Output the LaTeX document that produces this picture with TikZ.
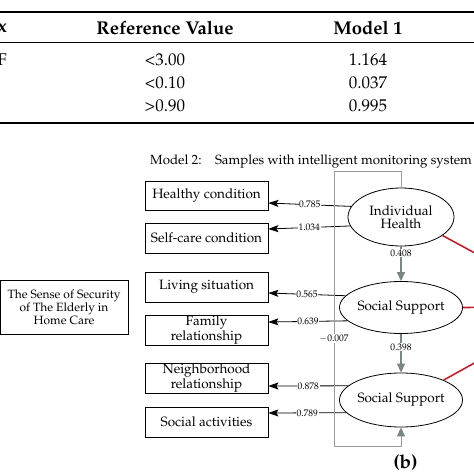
\documentclass[tikz,border=0pt]{standalone}
\usepackage[T1]{fontenc}
\usepackage{mathpazo}
\usetikzlibrary{arrows.meta,shapes.geometric}
\definecolor{slate}{HTML}{778787}
\definecolor{loopgray}{HTML}{9A9A9A}
\definecolor{redline}{HTML}{C0202A}
\tikzset{
  obs/.style={draw, line width=0.8pt, minimum width=123pt, minimum height=29pt, inner sep=1pt, align=center, font=\fontsize{13.5}{12.5}\selectfont},
  lat/.style={draw, ellipse, line width=0.8pt, minimum width=106pt, inner sep=0pt, align=center, font=\fontsize{13.5}{13}\selectfont},
  load/.style={-{Stealth[length=10pt,width=7pt,inset=2pt]}, line width=0.8pt},
  lab/.style={fill=white, inner sep=0.6pt, font=\fontsize{9.5}{10}\selectfont},
  garrow/.style={draw=slate, line width=1.2pt, -{Triangle[length=9pt,width=8pt,color=slate,fill=slate]}},
  loopline/.style={draw=loopgray, line width=1pt, -{Triangle[length=9pt,width=8pt,color=slate,fill=slate]}},
  redl/.style={draw=redline, line width=1.6pt},
  tabhead/.style={font=\fontsize{18.5}{19}\selectfont\bfseries, inner sep=0pt},
  tabcell/.style={font=\fontsize{17}{18}\selectfont, inner sep=0pt},
  rulethick/.style={line width=1.6pt},
  rulethin/.style={line width=0.8pt}
}
\begin{document}
\begin{tikzpicture}[x=1pt,y=-1pt]
\useasboundingbox (0,0) rectangle (474,474);
\clip (0,0) rectangle (474,474);
\fill[white] (0,0) rectangle (474,474);
% table
\coordinate (r1a) at (0,12); \coordinate (r1b) at (474,12);
\coordinate (r2a) at (0,42); \coordinate (r2b) at (474,42);
\coordinate (r3a) at (0,123); \coordinate (r3b) at (474,123);
\draw[rulethick] (r1a) -- (r1b);
\draw[rulethin] (r2a) -- (r2b);
\draw[rulethick] (r3a) -- (r3b);
\node[tabhead, anchor=east] (h0) at (7,28) {x};
\node[tabhead] (h1) at (165,28) {Reference Value};
\node[tabhead] (h2) at (368,28) {Model 1};
\node[tabcell, anchor=east] (c0) at (7,60) {F};
\node[tabcell] (c11) at (165,60) {<3.00};
\node[tabcell] (c12) at (368,60) {1.164};
\node[tabcell] (c21) at (165,83) {<0.10};
\node[tabcell] (c22) at (368,83) {0.037};
\node[tabcell] (c31) at (165,106) {>0.90};
\node[tabcell] (c32) at (368,106) {0.995};
% title
\node[anchor=west, inner sep=0pt, font=\fontsize{13.3}{14}\selectfont] (title) at (150,162) {Model 2:\quad Samples with intelligent monitoring system};
% big box
\node[draw, line width=0.8pt, minimum width=128pt, minimum height=54pt, inner sep=1pt, align=center, font=\fontsize{12}{13}\selectfont] (sense) at (64,307) {The Sense of Security\\of The Elderly in\\Home Care};
% observed
\node[obs] (hc) at (206.5,195.5) {Healthy condition};
\node[obs, minimum height=30pt] (sc) at (206.5,238) {Self-care condition};
\node[obs, minimum height=30pt] (ls) at (206.5,287) {Living situation};
\node[obs, minimum height=30pt] (fr) at (206.5,330) {Family\\relationship};
\node[obs, minimum height=30pt] (nr) at (206.5,378) {Neighborhood\\relationship};
\node[obs, minimum height=30pt] (sa) at (206.5,422) {Social activities};
% latent
\node[lat, minimum height=58pt] (ih) at (401,217) {Individual\\Health};
\node[lat, minimum height=52pt] (s1) at (401,307.5) {Social Support};
\node[lat, minimum height=54pt] (s2) at (401,400) {Social Support};
% loadings
\draw[load] (ih.168) -- ([yshift=-7.5pt]hc.east) node[lab, midway] {0.785};
\draw[load] (ih.190) -- ([yshift=9pt]sc.east) node[lab, midway] {1.034};
\draw[load] (s1.168) -- ([yshift=-6pt]ls.east) node[lab, midway] {0.565};
\draw[load] (s1.194) -- ([yshift=8pt]fr.east) node[lab, midway] {0.639};
\draw[load] (s2.165) -- ([yshift=-8pt]nr.east) node[lab, midway] {0.878};
\draw[load] (s2.193) -- ([yshift=9pt]sa.east) node[lab, midway] {0.789};
% structural
\draw[garrow] (ih.south) -- (s1.north) node[lab, pos=0.2] {0.408};
\draw[garrow] (s1.south) -- (s2.north) node[lab, pos=0.35] {0.398};
\coordinate (lt) at (334,171);
\coordinate (lb) at (334,446);
\draw[loopline] (ih.north) |- (lt) -- (lb) node[lab, pos=0.61] {$-$0.007} -| (s2.south);
% red paths
\coordinate (e1) at (530,283);
\coordinate (e2) at (530,307);
\coordinate (e3) at (530,332);
\draw[redl] (ih.336) -- (e1);
\draw[redl] (s1.east) -- (e2) node[lab, pos=0.17, anchor=west, inner sep=1pt] {0};
\draw[redl] (s2.25) -- (e3);
% label b
\node[font=\fontsize{19}{20}\selectfont\bfseries, inner sep=0pt] (b) at (405.5,463) {(b)};
\end{tikzpicture}
\end{document}
